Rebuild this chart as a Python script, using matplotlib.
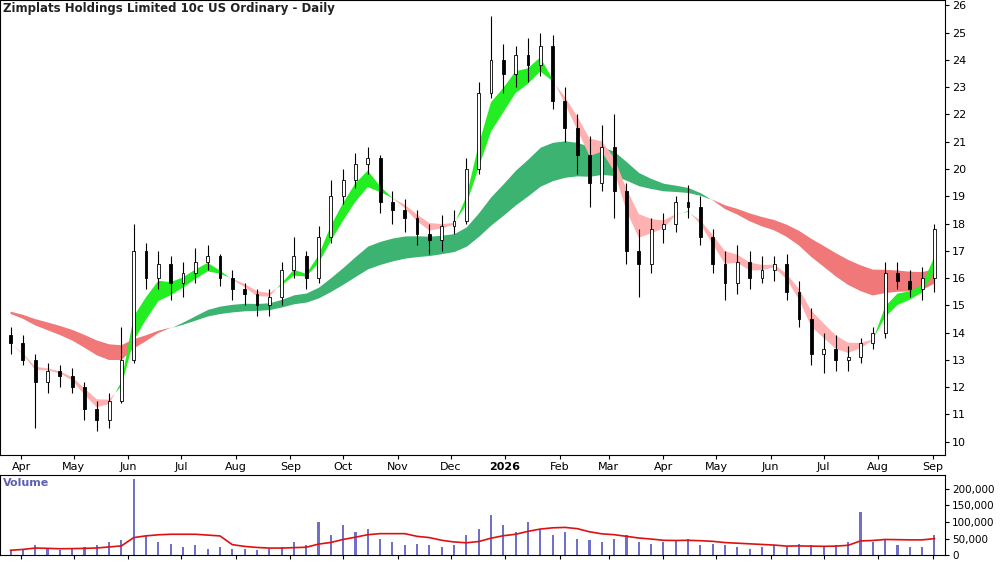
import matplotlib
matplotlib.use('Agg')
import matplotlib.pyplot as plt
import matplotlib.dates as mdates
import matplotlib.ticker as mticker
import pandas as pd

# weekly bars
week_start = '2025-03-24'
opens = [13.9,13.6,13.0,12.2,12.6,12.4,12.0,11.2,10.8,11.5,13.0,17.0,16.0,16.5,15.8,16.2,16.6,16.8,16.0,15.6,
         15.4,15.0,15.3,16.3,16.8,16.0,17.5,19.0,19.6,20.2,20.4,18.8,18.5,18.2,17.6,17.4,17.9,18.1,20.0,22.8,
         24.0,23.5,24.2,23.8,24.5,22.5,21.5,20.5,19.5,20.8,19.2,17.0,16.5,17.8,18.0,18.8,18.6,17.5,16.5,15.8,
         16.6,16.0,16.3,16.5,15.5,14.5,13.2,13.4,13.0,13.1,13.6,14.0,16.2,15.9,15.6,16.0]
closes = [13.6,13.0,12.2,12.6,12.4,12.0,11.2,10.8,11.5,13.0,17.0,16.0,16.5,15.8,16.2,16.6,16.8,16.0,15.6,15.4,
          15.0,15.3,16.3,16.8,16.0,17.5,19.0,19.6,20.2,20.4,18.8,18.5,18.2,17.6,17.4,17.9,18.1,20.0,22.8,24.0,
          23.5,24.2,23.8,24.5,22.5,21.5,20.5,19.5,20.8,19.2,17.0,16.5,17.8,18.0,18.8,18.6,17.5,16.5,15.8,16.6,
          16.0,16.3,16.5,15.5,14.5,13.2,13.4,13.0,13.1,13.6,14.0,16.2,15.9,15.6,16.0,17.8]
highs = [14.2,13.9,13.2,12.9,12.8,12.7,12.2,11.5,11.8,14.2,18.0,17.3,17.0,16.8,16.6,17.1,17.2,16.9,16.3,15.8,
         15.6,15.6,16.6,17.5,17.0,17.9,19.6,20.0,20.6,20.8,20.5,19.2,18.9,18.5,18.0,18.3,18.5,20.4,23.2,25.6,
         24.6,24.5,24.8,25.0,24.9,23.0,22.0,21.2,21.6,22.0,19.5,17.8,18.2,18.4,19.0,19.4,19.0,17.8,17.0,17.2,
         17.0,16.8,16.8,16.9,15.9,14.9,14.0,13.9,13.5,13.8,14.2,16.6,16.6,16.3,16.4,18.0]
lows = [13.2,12.8,10.5,11.8,12.0,11.8,10.8,10.4,10.5,11.4,12.9,15.6,15.6,15.2,15.3,15.8,16.3,15.7,15.2,15.0,
        14.6,14.6,15.0,16.0,15.6,15.8,17.3,18.7,19.3,19.8,18.4,18.0,17.7,17.2,16.9,17.0,17.6,18.0,19.8,22.6,
        22.8,23.0,23.2,23.4,22.2,21.0,19.8,18.6,19.2,18.2,16.5,15.3,16.2,17.3,17.7,18.2,17.2,16.2,15.2,15.4,
        15.6,15.8,15.9,15.2,14.2,12.8,12.5,12.6,12.6,12.9,13.4,13.8,15.6,15.3,15.2,15.5]
volumes = [15000,20000,30000,18000,15000,22000,25000,30000,40000,45000,230000,60000,40000,35000,25000,30000,20000,25000,20000,18000,
           15000,20000,25000,40000,30000,100000,60000,90000,70000,80000,50000,40000,30000,35000,30000,25000,30000,60000,80000,120000,
           90000,70000,100000,80000,60000,70000,50000,45000,40000,50000,60000,40000,35000,40000,45000,50000,30000,35000,30000,25000,
           20000,25000,30000,25000,35000,30000,25000,30000,40000,130000,40000,50000,30000,25000,25000,60000]
# where the slow averages stood before the first bar
seed_long = [15.0, 14.6]

dates = pd.date_range(week_start, periods=len(closes), freq='W-MON') + pd.Timedelta(days=2)
px = pd.Series(closes, index=dates)
fast_s, slow_s = px.ewm(span=3).mean(), px.ewm(span=5).mean()
seeded = pd.Series(seed_long * 10 + closes)
fast_l = seeded.ewm(span=18, adjust=False).mean().iloc[20:]
slow_l = seeded.ewm(span=30, adjust=False).mean().iloc[20:]
fast_l.index = dates
slow_l.index = dates
vol_ma = pd.Series(volumes, index=dates).rolling(8, min_periods=1).mean()

fig = plt.figure(figsize=(10, 5.62), dpi=100)
ax = fig.add_axes([0.0, 0.19, 0.945, 0.81])
axv = fig.add_axes([0.0, 0.012, 0.945, 0.142], sharex=ax)

ax.fill_between(dates, fast_l, slow_l, where=fast_l >= slow_l, color='#3cb371', interpolate=True, lw=0)
ax.fill_between(dates, fast_l, slow_l, where=fast_l < slow_l, color='#f07878', interpolate=True, lw=0)
ax.fill_between(dates, fast_s, slow_s, where=fast_s >= slow_s, color='#22ee22', interpolate=True, lw=0)
ax.fill_between(dates, fast_s, slow_s, where=fast_s < slow_s, color='#ffb0b0', interpolate=True, lw=0)

w = 1.6
for d, o, h, l, c in zip(dates, opens, highs, lows, closes):
    x = mdates.date2num(d)
    ax.vlines(x, l, h, color='black', lw=0.8, zorder=3)
    ax.bar(x, abs(c - o) or 0.05, bottom=min(o, c), width=w,
           color='white' if c >= o else 'black', edgecolor='black', lw=0.6, zorder=4)

ax.set_ylim(9.5, 26.2)
ax.set_yticks(range(10, 27))
ax.yaxis.tick_right()
ax.set_xlim(pd.Timestamp('2025-03-20'), pd.Timestamp('2026-09-08'))
ax.xaxis.set_major_locator(mdates.MonthLocator())
ax.xaxis.set_major_formatter(mticker.FuncFormatter(
    lambda v, p: '2026' if mdates.num2date(v).month == 1 else mdates.num2date(v).strftime('%b')))
ax.tick_params(labelsize=8, pad=2, length=3)
ax.text(0.003, 0.995, 'Zimplats Holdings Limited 10c US Ordinary - Daily', transform=ax.transAxes,
        va='top', ha='left', fontsize=8.5, fontweight='bold', color='#222222')

axv.bar(dates, volumes, width=1.2, color='#7070cc')
axv.plot(dates, vol_ma, color='#dd1111', lw=1.2)
axv.set_ylim(0, 240000)
axv.set_yticks([0, 50000, 100000, 150000, 200000])
axv.yaxis.set_major_formatter(mticker.FuncFormatter(lambda v, p: f'{int(v):,}'))
axv.yaxis.tick_right()
axv.tick_params(labelsize=7.5, labelbottom=False, pad=2, length=3)
axv.text(0.003, 0.97, 'Volume', transform=axv.transAxes, va='top', fontsize=8,
         color='#6060b0', fontweight='bold')

fig.canvas.draw()
for lab in ax.get_xticklabels():
    if lab.get_text() == '2026':
        lab.set_fontweight('bold')

fig.savefig('out.png', dpi=100)
